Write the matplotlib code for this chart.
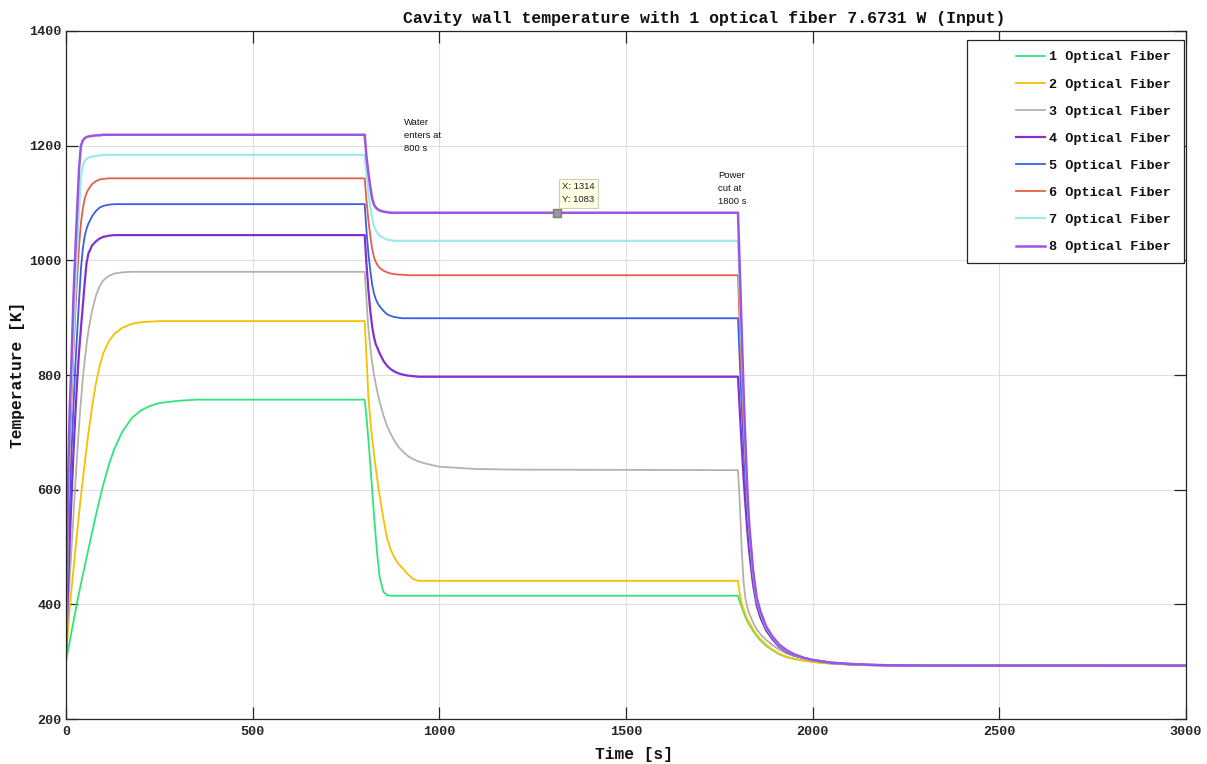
import matplotlib
matplotlib.use("Agg")
import matplotlib.pyplot as plt
from matplotlib.patches import Rectangle

# Sample times of the simulation output [s]: heating, water cooling, power cut
time_s = [0, 5, 10, 15, 20, 25, 30, 35, 40, 45, 50, 55, 60, 70, 80, 90, 100, 115, 130, 150,
          175, 200, 225, 250, 300, 350, 400, 800,
          805, 810, 815, 820, 825, 830, 835, 840, 850, 860, 870, 880, 890, 900, 915, 930,
          945, 960, 980, 1000, 1050, 1100, 1200, 1800,
          1805, 1810, 1815, 1820, 1825, 1830, 1840, 1850, 1860, 1875, 1890, 1910, 1930, 1950,
          1975, 2000, 2050, 2100, 2150, 2200, 2300, 3000]

# Cavity wall temperature [K] for each fiber count
fiber_1 = [300, 318, 335, 353, 370, 387, 404, 420, 436, 451, 466, 481, 496, 526, 555, 583, 609, 644, 672, 700,
           724, 738, 746, 751, 755, 757, 757, 757,
           725, 687, 645, 600, 556, 515, 478, 448, 422, 416, 415, 415, 415, 415, 415, 415,
           415, 415, 415, 415, 415, 415, 415, 415,
           404, 395, 386, 378, 371, 365, 354, 345, 337, 328, 321, 313, 308, 305,
           302, 299.5, 296.5, 295, 294, 293.5, 293, 293]
fiber_2 = [305, 350, 394, 428, 461, 494, 526, 558, 589, 617, 645, 672, 699, 745, 785, 815, 838, 859, 872, 882,
           889, 892, 893, 894, 894, 894, 894, 894,
           830, 762, 722, 690, 662, 636, 612, 590, 550, 515, 495, 481, 471, 464, 453, 444,
           441, 441, 441, 441, 441, 441, 441, 441,
           418, 401, 391, 382, 374, 368, 357, 347, 339, 330, 322, 314, 308.5, 305,
           302, 299.5, 296.5, 295, 294, 293.5, 293, 293]
fiber_3 = [310, 385, 445, 500, 555, 610, 662, 712, 755, 793, 825, 853, 877, 913, 938, 955, 965, 973, 977, 979,
           980, 980, 980, 980, 980, 980, 980, 980,
           930, 880, 850, 822, 800, 783, 768, 754, 730, 711, 697, 685, 675, 668, 659, 653,
           649, 646, 643, 640, 638, 636, 635, 634,
           575, 495, 438, 410, 395, 384, 369, 357, 348, 338, 330, 321, 314, 310,
           306, 303, 299, 296.5, 295, 294, 293.5, 293]
fiber_4 = [315, 420, 510, 590, 665, 730, 790, 840, 882, 920, 960, 995, 1012, 1026, 1033, 1038, 1041, 1043, 1044, 1044,
           1044, 1044, 1044, 1044, 1044, 1044, 1044, 1044,
           992, 948, 912, 885, 866, 853, 846, 838, 825, 816, 810, 806, 803, 801, 799, 798,
           797, 797, 797, 797, 797, 797, 797, 797,
           735, 675, 620, 572, 528, 492, 436, 398, 377, 355, 341, 326, 317, 311,
           306.5, 302.5, 298, 295.5, 294.3, 293.7, 293.2, 293]
fiber_5 = [315, 470, 580, 670, 745, 815, 875, 930, 985, 1020, 1042, 1055, 1064, 1077, 1086, 1092, 1095, 1097, 1098, 1098,
           1098, 1098, 1098, 1098, 1098, 1098, 1098, 1098,
           1050, 1012, 983, 958, 942, 932, 925, 920, 912, 906, 903, 901, 900, 899, 899, 899,
           899, 899, 899, 899, 899, 899, 899, 899,
           820, 745, 677, 615, 560, 512, 446, 403, 381, 357, 343, 327, 318, 311.5,
           306.5, 302.5, 298, 295.5, 294.3, 293.7, 293.2, 293]
fiber_6 = [315, 520, 670, 760, 840, 910, 970, 1025, 1065, 1090, 1107, 1117, 1124, 1133, 1138, 1141, 1142, 1143, 1143, 1143,
           1143, 1143, 1143, 1143, 1143, 1143, 1143, 1143,
           1103, 1070, 1043, 1020, 1005, 997, 991, 987, 982, 979, 977, 976, 975, 975, 974, 974,
           974, 974, 974, 974, 974, 974, 974, 974,
           880, 795, 715, 645, 578, 525, 453, 406, 384, 359, 344, 328, 318.5, 312,
           306.5, 302.5, 298, 295.5, 294.3, 293.7, 293.2, 293]
fiber_7 = [315, 560, 710, 790, 865, 945, 1020, 1090, 1145, 1165, 1173, 1177, 1179, 1181, 1182, 1183, 1184, 1184, 1184, 1184,
           1184, 1184, 1184, 1184, 1184, 1184, 1184, 1184,
           1148, 1117, 1093, 1073, 1060, 1052, 1047, 1043, 1039, 1036, 1035, 1034, 1034, 1034, 1034, 1034,
           1034, 1034, 1034, 1034, 1034, 1034, 1034, 1034,
           935, 840, 748, 665, 590, 533, 458, 409, 386, 360, 345, 329, 319, 312.5,
           306.5, 302.5, 298, 295.5, 294.3, 293.7, 293.2, 293]
fiber_8 = [315, 600, 740, 830, 935, 1015, 1090, 1160, 1200, 1209, 1213, 1215, 1216, 1217, 1218, 1218, 1219, 1219, 1219, 1219,
           1219, 1219, 1219, 1219, 1219, 1219, 1219, 1219,
           1180, 1152, 1128, 1108, 1097, 1092, 1089, 1087, 1085, 1084, 1083, 1083, 1083, 1083, 1083, 1083,
           1083, 1083, 1083, 1083, 1083, 1083, 1083, 1083,
           980, 875, 770, 680, 600, 540, 462, 412, 388, 362, 346, 330, 320, 313,
           307, 303, 298, 296, 294.5, 293.8, 293.2, 293]

series = [fiber_1, fiber_2, fiber_3, fiber_4, fiber_5, fiber_6, fiber_7, fiber_8]
labels = ["1 Optical Fiber", "2 Optical Fiber", "3 Optical Fiber", "4 Optical Fiber",
          "5 Optical Fiber", "6 Optical Fiber", "7 Optical Fiber", "8 Optical Fiber"]
colors = ["#2fe57a", "#f7c002", "#b3b3aa", "#8230cf", "#3a5fe6", "#e0604a", "#9eeaea", "#9a55e3"]
widths = [1.3, 1.3, 1.3, 1.6, 1.3, 1.3, 1.6, 1.8]

x_ticks = [0, 500, 1000, 1500, 2000, 2500, 3000]
y_ticks = [200, 400, 600, 800, 1000, 1200, 1400]

tip_x, tip_y = 1314, 1083
water_note = ("Water\nenters at\n800 s", 905, 1248)
power_note = ("Power\ncut at\n1800 s", 1747, 1155)

MONO = "Liberation Mono"
SANS = "Liberation Sans"
AX_COLOR = "#262626"

fig = plt.figure(figsize=(12.07, 7.64), dpi=100)
ax = fig.add_axes([66 / 1207, 1 - 719 / 764, 1120 / 1207, 688 / 764])

for vals, lab, col, lw in zip(series, labels, colors, widths):
    ax.plot(time_s, vals, color=col, lw=lw, label=lab, solid_joinstyle="round")

ax.set_xlim(0, 3000)
ax.set_ylim(200, 1400)
ax.set_xticks(x_ticks)
ax.set_yticks(y_ticks)
ax.grid(True, color="#dedede", lw=0.8)
ax.set_axisbelow(True)
for sp in ax.spines.values():
    sp.set_color(AX_COLOR)
    sp.set_linewidth(0.9)
ax.tick_params(direction="in", length=8.5, width=0.9, color=AX_COLOR,
               top=True, right=True, labelcolor=AX_COLOR)
ax.tick_params(axis="y", pad=3)
ax.tick_params(axis="x", pad=5)
for lab in ax.get_xticklabels() + ax.get_yticklabels():
    lab.set_fontfamily(MONO)
    lab.set_fontweight("bold")
    lab.set_fontsize(9.7)

# Event notes
for txt, xx, yy in (water_note, power_note):
    ax.text(xx, yy, txt, fontfamily=SANS, fontsize=6.8, color="#111111",
            ha="left", va="top", linespacing=1.55)

# Data tip on the 8-fiber curve
ax.plot([tip_x], [tip_y], marker="s", ms=5.5, color="#9a9a9a", mec="#7a7a7a", zorder=6)
ax.annotate(f"X: {tip_x}\nY: {tip_y}", xy=(tip_x, tip_y), xytext=(4, 6),
            textcoords="offset points", fontfamily=SANS, fontsize=6.8, color="#222222",
            ha="left", va="bottom", linespacing=1.6,
            bbox=dict(boxstyle="square,pad=0.35", fc="#ffffe6", ec="#d0d0b0", lw=0.8),
            zorder=7)

# Legend frame and entries
frame = Rectangle(((967 - 66) / 1120, (719 - 263) / 688), (1184 - 967) / 1120, (263 - 40) / 688,
                  transform=ax.transAxes, fc="white", ec=AX_COLOR, lw=0.9,
                  zorder=4.5, clip_on=False)
ax.add_patch(frame)
leg = ax.legend(loc="upper left", bbox_to_anchor=((1016 - 66) / 1120, (719 - 51) / 688),
                frameon=False, borderpad=0, borderaxespad=0, handlelength=2.15,
                handletextpad=0.3, labelspacing=1.09,
                prop=dict(family=MONO, weight="bold", size=9.7))
leg.set_zorder(5)
for t in leg.get_texts():
    t.set_color("#111111")

fig.text(704.5 / 1207, 1 - 18 / 764, "Cavity wall temperature with 1 optical fiber 7.6731 W (Input)",
         fontfamily=MONO, fontweight="bold", fontsize=11.9, ha="center", va="center", color="#111111")
fig.text(634 / 1207, 1 - 754 / 764, "Time [s]", fontfamily=MONO, fontweight="bold",
         fontsize=11.7, ha="center", va="center", color="#111111")
fig.text(18 / 1207, 1 - 375 / 764, "Temperature [K]", fontfamily=MONO, fontweight="bold",
         fontsize=11.7, ha="center", va="center", rotation=90, color="#111111")

fig.savefig("out.png", dpi=100, facecolor="white")
